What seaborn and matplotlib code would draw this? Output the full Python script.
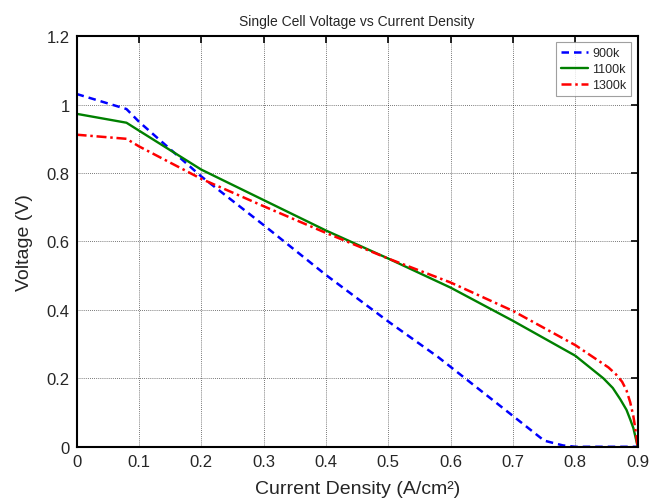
import numpy as np
import pandas as pd
import seaborn as sns
import matplotlib.pyplot as plt

# values
x_900 = [0, 0.08, 0.1, 0.2, 0.3, 0.4, 0.5, 0.58, 0.7, 0.75, 0.78, 0.8, 0.9]
v_900 = [1.031, 0.987, 0.95, 0.79, 0.648, 0.502, 0.366, 0.262, 0.09, 0.018, 0.004, 0.0, 0.0]

x_1100 = [0, 0.08, 0.1, 0.2, 0.3, 0.4, 0.5, 0.6, 0.7, 0.8, 0.845, 0.86, 0.872, 0.882, 0.888, 0.893, 0.896, 0.9]
v_1100 = [0.973, 0.947, 0.924, 0.81, 0.721, 0.632, 0.55, 0.465, 0.368, 0.266, 0.2, 0.172, 0.139, 0.108, 0.08, 0.055, 0.032, 0.0]

x_1300 = [0, 0.08, 0.1, 0.2, 0.3, 0.4, 0.5, 0.6, 0.7, 0.8, 0.853, 0.865, 0.875, 0.882, 0.888, 0.893, 0.896, 0.9]
v_1300 = [0.912, 0.90, 0.878, 0.783, 0.703, 0.625, 0.55, 0.48, 0.397, 0.297, 0.232, 0.212, 0.19, 0.165, 0.13, 0.09, 0.055, 0.0]

xticks = [0, 0.1, 0.2, 0.3, 0.4, 0.5, 0.6, 0.7, 0.8, 0.9]
xtick_labels = ['0', '0.1', '0.2', '0.3', '0.4', '0.5', '0.6', '0.7', '0.8', '0.9']
yticks = [0, 0.2, 0.4, 0.6, 0.8, 1.0, 1.2]
ytick_labels = ['0', '0.2', '0.4', '0.6', '0.8', '1', '1.2']

sns.set_theme(style="white")
plt.rcParams['font.family'] = ['Liberation Sans', 'DejaVu Sans']
plt.rcParams['xtick.direction'] = 'in'
plt.rcParams['ytick.direction'] = 'in'

fig = plt.figure(figsize=(6.66, 5.02), dpi=100)
ax = fig.add_axes([0.115, 0.108, 0.8425, 0.818])

sns.lineplot(x=x_900, y=v_900, ax=ax, color='#0000ff', lw=1.8,
             linestyle=(0, (3, 2)), label='900k')
sns.lineplot(x=x_1100, y=v_1100, ax=ax, color='#008000', lw=1.7,
             linestyle='-', label='1100k')
sns.lineplot(x=x_1300, y=v_1300, ax=ax, color='#ff0000', lw=1.8,
             linestyle=(0, (4, 1.5, 1, 1.5)), label='1300k')

ax.set_xlim(0, 0.9)
ax.set_ylim(0, 1.2)
ax.set_xticks(xticks)
ax.set_xticklabels(xtick_labels)
ax.set_yticks(yticks)
ax.set_yticklabels(ytick_labels)
ax.tick_params(axis='both', labelsize=12, top=True, right=True,
               length=5, width=1.2, color='black', pad=5)
ax.grid(True, color='black', linestyle=(0, (1, 1.5)), linewidth=0.6, alpha=0.7)
for s in ax.spines.values():
    s.set_color('black')
    s.set_linewidth(1.5)

ax.set_title('Single Cell Voltage vs Current Density', fontsize=10, pad=8)
ax.set_xlabel('Current Density (A/cm²)', fontsize=14, labelpad=8)
ax.set_ylabel('Voltage (V)', fontsize=14, labelpad=10)

leg = ax.legend(loc='upper right', fontsize=9, frameon=True, fancybox=False,
                handlelength=2.2, handletextpad=0.3, borderpad=0.4,
                labelspacing=0.3, borderaxespad=0.5)
leg.get_frame().set_edgecolor('#888888')
leg.get_frame().set_linewidth(0.8)

plt.savefig('out.png', dpi=100)
